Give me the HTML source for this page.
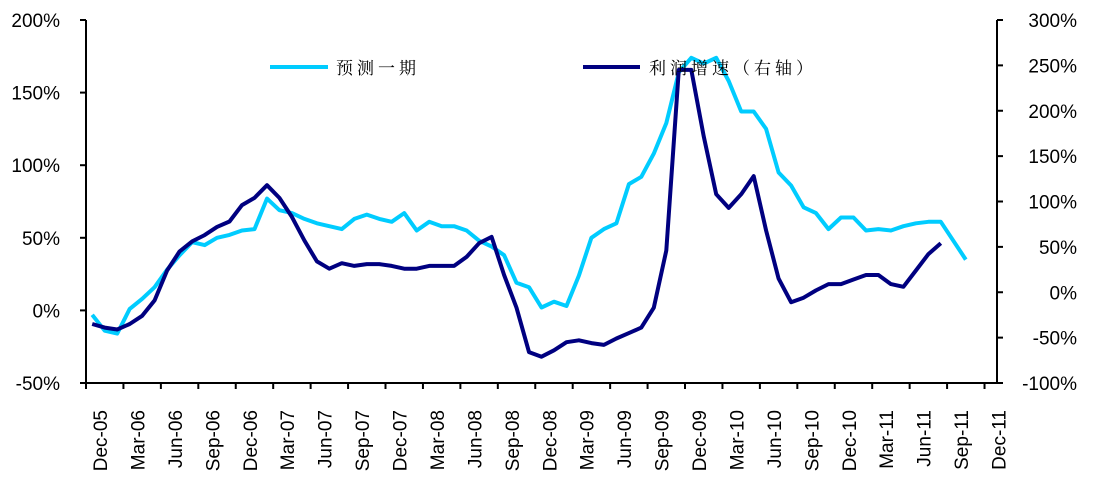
<!DOCTYPE html>
<html><head><meta charset="utf-8"><style>
body{margin:0;background:#fff;}
svg{display:block;font-family:"Liberation Sans",Arial,sans-serif;}
</style></head><body>
<svg id="chart" width="1095" height="489" xmlns="http://www.w3.org/2000/svg">
<g id="axes"></g>
<g id="series"></g>
<g id="legend">
  <line x1="270" y1="67" x2="328" y2="67" stroke="#00CCFF" stroke-width="4"/>
  <text x="336" y="74" font-size="17" letter-spacing="4" font-family="'Noto Serif CJK SC','Noto Sans CJK SC',serif">预测一期</text>
  <line x1="583" y1="67" x2="640" y2="67" stroke="#000080" stroke-width="4"/>
  <text x="649" y="74" font-size="17" letter-spacing="4" font-family="'Noto Serif CJK SC','Noto Sans CJK SC',serif">利润增速（右轴）</text>
</g>
</svg>
<script>
const xLabels = ["Dec-05","Mar-06","Jun-06","Sep-06","Dec-06","Mar-07","Jun-07","Sep-07","Dec-07","Mar-08","Jun-08","Sep-08","Dec-08","Mar-09","Jun-09","Sep-09","Dec-09","Mar-10","Jun-10","Sep-10","Dec-10","Mar-11","Jun-11","Sep-11","Dec-11"];
const leftTicks = [-50,0,50,100,150,200];
const rightTicks = [-100,-50,0,50,100,150,200,250,300];
const forecast = [-3,-14,-16,1,8,16,28,38,47,45,50,52,55,56,77,69,67,63,60,58,56,63,66,63,61,67,55,61,58,58,55,48,44,38,19,16,2,6,3,24,50,56,60,87,92,108,129,164,174,170,174,158,137,137,125,95,86,71,67,56,64,64,55,56,55,58,60,61,61,48,35];
const profitGrowth = [-35,-39,-41,-35,-26,-9,24,45,56,63,72,78,96,104,118,104,83,57,34,26,32,29,31,31,29,26,26,29,29,29,39,54,61,19,-17,-66,-71,-64,-55,-53,-56,-58,-51,-45,-39,-17,46,245,245,172,108,93,108,128,68,15,-11,-6,2,9,9,14,19,19,9,6,24,42,54];

const NS="http://www.w3.org/2000/svg";
const X0=86, X1=997, Y0=20, Y1=383, NCAT=73;
const catW=(X1-X0)/NCAT;
const xCat=i=>X0+(i+0.5)*catW;
const yL=v=>Y1-(v+50)/250*(Y1-Y0);
const yR=v=>Y1-(v+100)/400*(Y1-Y0);
function mk(tag,attrs,parent){const e=document.createElementNS(NS,tag);for(const k in attrs)e.setAttribute(k,attrs[k]);parent.appendChild(e);return e;}
const axes=document.getElementById('axes');
const series=document.getElementById('series');

let e=mk('line',{x1:X0,y1:Y0,x2:X0,y2:Y1,stroke:'#000','stroke-width':2},axes);


e=mk('line',{x1:X1,y1:Y0,x2:X1,y2:Y1,stroke:'#000','stroke-width':2},axes);


e=mk('line',{x1:X0-6,y1:Y1,x2:X1,y2:Y1,stroke:'#000','stroke-width':2},axes);



leftTicks.forEach(v=>{
  const y=yL(v);
  mk('line',{x1:X0-6,y1:y,x2:X0,y2:y,stroke:'#000','stroke-width':2},axes);
  const t=mk('text',{x:60,y:y+7,'text-anchor':'end','font-size':19},axes);
  t.textContent=v+'%';
  
  
});
rightTicks.forEach(v=>{
  const y=yR(v);
  mk('line',{x1:X1,y1:y,x2:X1+6,y2:y,stroke:'#000','stroke-width':2},axes);
  const t=mk('text',{x:1077,y:y+7,'text-anchor':'end','font-size':19},axes);
  t.textContent=v+'%';
  
  
});
xLabels.forEach((lab,k)=>{
  const x=X0+k*3*catW;
  mk('line',{x1:x,y1:Y1,x2:x,y2:Y1+6,stroke:'#000','stroke-width':2},axes);
  const cx=x+21, cy=410;
  const t=mk('text',{x:cx,y:cy,'text-anchor':'end','font-size':19,transform:`rotate(-90 ${cx} ${cy})`},axes);
  t.textContent=lab;
  
  
});

function line(arr,yf,color,name){
  const pts=arr.map((v,i)=>xCat(i).toFixed(1)+','+yf(v).toFixed(1)).join(' ');
  const p=mk('polyline',{points:pts,fill:'none',stroke:color,'stroke-width':4,'stroke-linejoin':'round'},series);
  
  
}
line(forecast,yL,'#00CCFF','forecast-line');
line(profitGrowth,yR,'#000080','profit-growth-line');
</script>
</body></html>
